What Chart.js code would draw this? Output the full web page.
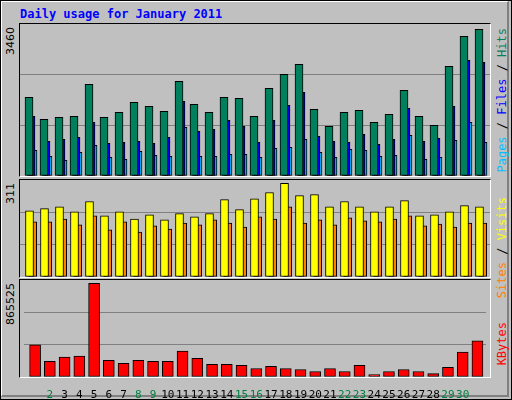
<!DOCTYPE html>
<html><head><meta charset="utf-8">
<script src="https://cdn.jsdelivr.net/npm/chart.js@4"></script>
<style>
html,body{margin:0;padding:0;background:#C0C0C0;}
#frame{position:absolute;left:0;top:0;width:512px;height:400px;box-sizing:border-box;border:1px solid #000;}
#inner{position:absolute;left:1px;top:1px;width:508px;height:396px;box-sizing:border-box;border-top:1px solid #fff;border-left:1px solid #fff;border-right:2px solid #808080;border-bottom:2px solid #808080;}
.panel{position:absolute;box-sizing:border-box;border-top:1px solid #000;border-left:1px solid #000;border-right:1px solid #fff;border-bottom:1px solid #fff;}
.cw{position:absolute;}
.title{position:absolute;left:20px;top:7px;font:bold 12px "DejaVu Sans Mono",monospace;color:#0000FF;}
.vt{position:absolute;writing-mode:vertical-rl;transform:rotate(180deg);white-space:nowrap;}
.rl{font:12px "DejaVu Sans Mono",monospace;}
.ll{font:11px "DejaVu Sans",sans-serif;color:#000;}
</style></head><body>
<div id="frame"></div><div id="inner"></div>
<div class="title">Daily usage for January 2011</div>
<div class="panel" style="left:19px;top:23px;width:472px;height:154px;"></div>
<div class="panel" style="left:19px;top:179px;width:472px;height:99px;"></div>
<div class="panel" style="left:19px;top:279px;width:472px;height:99px;"></div>
<div class="cw" style="left:20px;top:24px;"><canvas id="c1" width="470" height="152"></canvas></div>
<div class="cw" style="left:20px;top:180px;"><canvas id="c2" width="470" height="97"></canvas></div>
<div class="cw" style="left:20px;top:280px;"><canvas id="c3" width="470" height="118"></canvas></div>
<div class="vt ll" style="left:4px;top:27px;">3460</div>
<div class="vt ll" style="left:4px;top:183px;">311</div>
<div class="vt ll" style="left:4px;top:283px;">865525</div>
<div class="vt rl" style="left:495px;top:28px;"><span style="color:#00C0FF">Pages</span> / <span style="color:#0000FF">Files</span> / <span style="color:#00805C">Hits</span></div>
<div class="vt rl" style="left:495px;top:197px;"><span style="color:#FF8000">Sites</span> / <span style="color:#FFFF00">Visits</span></div>
<div class="vt rl" style="left:495px;top:322px;"><span style="color:#FF0000">KBytes</span></div>
<script>
const days = Array.from({length:31},(_,i)=>i+1);
const weekend = [1,2,8,9,15,16,22,23,29,30];
const hits = [1791,1290,1336,1358,2087,1336,1449,1677,1586,1472,2155,1631,1449,1791,1768,1358,1996,2314,2542,1518,1131,1449,1495,1222,1404,1950,1358,1153,2496,3179,3339];
const files = [1358,789,835,880,1222,744,766,789,744,880,1700,1017,1062,1267,1131,766,1267,1609,1905,903,789,766,949,721,835,1540,789,857,1586,2633,2588];
const pages = [584,448,357,539,698,425,379,562,470,448,1108,448,448,493,493,425,630,653,835,539,425,607,584,448,470,926,379,425,812,1222,766];
const visits = [212,219,225,209,242,196,209,186,199,183,203,193,203,248,216,251,271,300,261,264,225,242,225,209,225,245,196,199,209,229,225];
const sites = [177,177,186,167,196,151,177,144,164,154,173,167,183,173,160,193,186,225,173,183,167,190,180,177,186,196,164,170,160,173,173];
const kbytes = [286474,140190,176760,185904,835042,149332,121904,149332,140190,140190,231618,167618,112761,112761,103618,76190,94476,76190,67047,48761,76190,48761,103618,21333,48761,67047,48761,30476,85333,222475,323046];
const maxTop = 3460, maxMid = 311, maxBot = 865525;

const pts = arr => arr.map((v,i)=>({x:days[i],y:v}));
const span = 470/15;
function xs(min,show){return {type:'linear',offset:false,min:min,max:min+span,display:show,grid:{display:false,offset:false},border:{display:false}};}
function yScale(max){return {min:0,max:max,display:true,afterFit:s=>{s.width=0;},
  ticks:{display:false,stepSize:max/3},border:{display:false},
  grid:{drawTicks:false,color:c=>(c.index===1||c.index===2)?'#808080':'rgba(0,0,0,0)'}};}
function ds(arr,color,axis,w){return {data:pts(arr),backgroundColor:color,borderColor:'#000',borderWidth:1,borderSkipped:false,xAxisID:axis,grouped:false,barThickness:w};}
const base = {responsive:false,animation:false,layout:{padding:0},plugins:{legend:{display:false},tooltip:{enabled:false}}};

new Chart(document.getElementById('c1'),{type:'bar',
  data:{datasets:[ds(hits,'#00805C','x1',8),ds(files,'#0000FF','x2',8),ds(pages,'#00C0FF','x3',8)]},
  options:Object.assign({},base,{scales:{x1:xs(0.4,false),x2:xs(0.267,false),x3:xs(0.133,false),y:yScale(maxTop)}})});

new Chart(document.getElementById('c2'),{type:'bar',
  data:{datasets:[ds(visits,'#FFFF00','x1',8),ds(sites,'#FF8000','x2',8)]},
  options:Object.assign({},base,{scales:{x1:xs(0.367,false),x2:xs(0.153,false),y:yScale(maxMid)}})});

const xb = xs(0.247,true);
xb.afterFit = s=>{s.height=21;};
xb.ticks = {stepSize:1,autoSkip:false,maxRotation:0,minRotation:0,padding:4,
  font:{family:'DejaVu Sans Mono',size:11},
  color:c=>weekend.includes(c.tick.value)?'#008040':'#000',
  callback:v=>Number.isInteger(v)&&v>=1&&v<=31?String(v):''};
new Chart(document.getElementById('c3'),{type:'bar',
  data:{datasets:[ds(kbytes,'#FF0000','x',11)]},
  options:Object.assign({},base,{scales:{x:xb,y:yScale(maxBot)}})});
</script>
</body></html>
